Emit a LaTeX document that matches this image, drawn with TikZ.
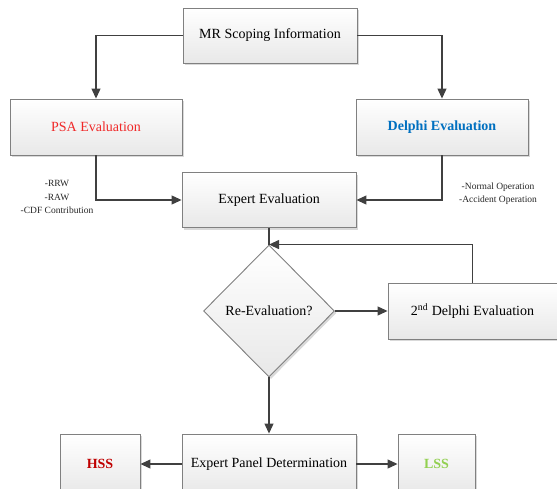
\documentclass[tikz,border=0pt]{standalone}
\usepackage{fontspec}
\setmainfont{Liberation Serif}
\usetikzlibrary{arrows.meta,shapes.geometric,shadows}
\definecolor{boxline}{RGB}{128,128,128}
\definecolor{arrowc}{RGB}{64,64,64}
\definecolor{psared}{RGB}{240,40,40}
\definecolor{delphiblue}{RGB}{0,112,192}
\definecolor{hssred}{RGB}{192,0,0}
\definecolor{lssgreen}{RGB}{146,208,80}
\tikzset{
  box/.style={draw=boxline, line width=0.9pt, top color=white, bottom color=black!9,
    drop shadow={shadow xshift=2pt, shadow yshift=-2pt, fill=black!25, opacity=0.6},
    minimum width=174pt, minimum height=55pt, inner sep=2pt, font=\fontsize{14}{16}\selectfont},
  dia/.style={diamond, draw=boxline, line width=0.9pt, top color=white, bottom color=black!9,
    drop shadow={shadow xshift=2pt, shadow yshift=-2pt, fill=black!25, opacity=0.6},
    minimum width=131pt, minimum height=132pt, inner sep=0pt, font=\fontsize{14}{16}\selectfont},
  arr/.style={draw=arrowc, line width=1.1pt, -{Triangle[length=10pt,width=9pt]}},
  ln/.style={draw=arrowc, line width=1.1pt},
  note/.style={font=\fontsize{9.5}{13.5}\selectfont, align=center, text=black!85}
}
\begin{document}
\begin{tikzpicture}[x=1pt,y=-1pt]
\useasboundingbox (0,0) rectangle (557,488);
\node[box] (mr) at (270,35.5) {MR Scoping Information};
\node[box, minimum width=172pt, minimum height=56pt, text=psared] (psa) at (96,127) {PSA Evaluation};
\node[box, minimum width=172pt, minimum height=56pt, text=delphiblue, font=\fontsize{14}{16}\selectfont\bfseries] (del) at (442,127) {Delphi Evaluation};
\node[box] (ee) at (269,200) {Expert Evaluation};
\node[dia] (re) at (269,311) {Re-Evaluation?};
\node[box, minimum width=169pt, minimum height=56pt] (d2) at (472.5,311) {2\textsuperscript{nd} Delphi Evaluation};
\node[box, minimum height=60pt] (epd) at (269,464) {Expert Panel Determination};
\node[box, minimum width=80pt, minimum height=60pt, text=hssred, font=\fontsize{14}{16}\selectfont\bfseries] (hss) at (100,464) {HSS};
\node[box, minimum width=77pt, minimum height=60pt, text=lssgreen, font=\fontsize{14}{16}\selectfont\bfseries] (lss) at (436.5,464) {LSS};
\node[note] (n1) at (57,197) {-RRW\\-RAW\\-CDF Contribution};
\node[note] (n2) at (498,193.5) {-Normal Operation\\-Accident Operation};
\draw[arr] (mr.west) -| (psa.north);
\draw[arr] (mr.east) -| (del.north);
\draw[arr] (psa.south) |- (ee.west);
\draw[arr] (del.south) |- (ee.east);
\draw[ln] (ee.south) -- (re.north);
\draw[arr] (d2.north) |- (re.north);
\draw[arr] (re.east) -- (d2.west);
\draw[arr] (re.south) -- (epd.north);
\draw[arr] (epd.west) -- (hss.east);
\draw[arr] (epd.east) -- (lss.west);
\end{tikzpicture}
\end{document}
